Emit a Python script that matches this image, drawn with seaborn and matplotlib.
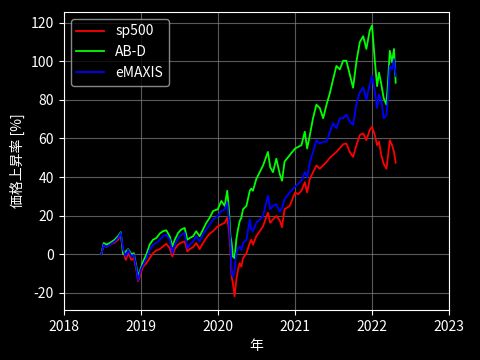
import matplotlib
matplotlib.use("Agg")
import matplotlib.pyplot as plt
import matplotlib.dates as mdates
import seaborn as sns
import pandas as pd

dates = [
    "2018-06-28", "2018-07-09", "2018-07-22", "2018-08-07", "2018-08-30", "2018-09-15", "2018-09-28",
    "2018-10-09", "2018-10-22", "2018-11-02", "2018-11-18", "2018-11-29", "2018-12-11", "2018-12-19",
    "2019-01-01", "2019-01-12", "2019-01-28", "2019-02-12", "2019-02-28", "2019-03-16", "2019-04-01",
    "2019-04-16", "2019-05-02", "2019-05-18", "2019-05-31", "2019-06-11", "2019-06-27", "2019-07-12",
    "2019-07-28", "2019-08-10", "2019-08-21", "2019-09-06", "2019-09-21", "2019-10-07", "2019-10-23",
    "2019-11-08", "2019-11-24", "2019-12-10", "2020-01-01", "2020-01-18", "2020-02-03", "2020-02-15",
    "2020-02-23", "2020-03-01", "2020-03-07", "2020-03-13", "2020-03-21", "2020-03-29", "2020-04-06",
    "2020-04-14", "2020-04-22", "2020-04-30", "2020-05-16", "2020-06-01", "2020-06-08", "2020-06-16",
    "2020-07-02", "2020-07-18", "2020-08-03", "2020-08-26", "2020-09-06", "2020-09-19", "2020-10-05",
    "2020-10-21", "2020-11-01", "2020-11-13", "2020-12-07", "2021-01-02", "2021-01-16", "2021-02-01",
    "2021-02-17", "2021-02-28", "2021-03-13", "2021-03-28", "2021-04-13", "2021-04-29", "2021-05-15",
    "2021-05-31", "2021-06-16", "2021-07-01", "2021-07-17", "2021-08-02", "2021-08-18", "2021-09-02",
    "2021-09-18", "2021-10-04", "2021-10-20", "2021-11-05", "2021-11-21", "2021-12-06", "2021-12-22",
    "2022-01-02", "2022-01-15", "2022-01-26", "2022-02-04", "2022-02-15", "2022-02-26", "2022-03-11",
    "2022-03-19", "2022-03-27", "2022-04-07", "2022-04-16", "2022-04-24",
]

sp500 = [
    0, 5.0, 3.7, 5.0, 6.0, 7.5, 10.7,
    1.4, -3.0, 0.5, -3.0, -2.0, -8.0, -14.0,
    -10.0, -6.5, -4.7, -2.0, 0.5, 2.0, 2.6,
    4.0, 5.4, 3.1, -1.2, 2.6, 5.0, 6.0,
    6.6, 1.4, 2.6, 3.7, 5.8, 2.6, 5.8,
    8.4, 10.7, 11.9, 14.5, 15.4, 16.3, 18.9,
    12.8, 2.3, -11.7, -15.2, -21.9, -13.5, -8.2,
    -4.7, -6.5, -2.1, 0.5, 5.8, 7.5, 4.9,
    9.3, 11.9, 14.5, 21.5, 16.3, 18.0, 19.8,
    17.5, 14.0, 23.3, 25.0, 32.0, 31.1, 32.9,
    37.3, 32.0, 39.0, 42.5, 46.0, 44.3, 46.0,
    47.8, 50.0, 51.5, 53.0, 55.0, 57.0, 57.4,
    53.0, 50.4, 56.5, 61.8, 62.6, 59.1, 64.4,
    66.1, 61.8, 56.5, 58.3, 51.3, 46.9, 44.3,
    51.3, 59.1, 56.5, 53.0, 47.4,
]

abd = [
    0, 5.8, 5.0, 5.8, 7.5, 9.3, 11.4,
    0.0, 1.4, 2.6, 0.0, 0.5, -6.5, -11.7,
    -7.3, -3.8, 0.0, 5.0, 7.5, 8.4, 10.7,
    11.9, 12.4, 9.3, 4.0, 7.5, 11.0, 12.8,
    13.6, 7.5, 8.4, 9.3, 11.9, 9.3, 12.8,
    16.3, 18.9, 22.4, 23.3, 27.6, 25.0, 32.9,
    23.3, 9.3, 5.8, -1.2, -2.1, 7.5, 12.8,
    17.1, 18.9, 23.3, 25.0, 32.9, 34.0, 32.9,
    39.0, 42.5, 46.0, 53.0, 45.1, 42.5, 49.5,
    41.6, 38.1, 48.0, 51.3, 54.8, 55.6, 56.5,
    63.5, 54.8, 61.8, 70.5, 77.5, 75.8, 70.5,
    77.5, 83.6, 90.6, 97.6, 95.8, 100.3, 100.3,
    93.3, 86.3, 100.0, 110.0, 113.0, 106.4, 116.0,
    118.6, 100.3, 87.1, 94.1, 88.0, 81.0, 77.5,
    89.8, 105.5, 99.4, 106.4, 88.9,
]

emaxis = [
    0, 4.9, 3.7, 4.9, 6.6, 8.4, 11.0,
    2.3, -1.2, 2.3, -1.2, -0.3, -7.3, -13.5,
    -8.2, -5.6, -2.1, 2.3, 4.9, 5.8, 7.5,
    9.3, 10.1, 7.5, 0.5, 4.9, 8.4, 10.1,
    11.0, 3.1, 4.9, 6.6, 9.3, 6.6, 10.1,
    12.8, 15.4, 18.0, 19.8, 22.4, 23.3, 26.8,
    18.0, 5.8, -10.0, -11.7, -8.2, 0.5, 3.1,
    4.0, 2.3, 5.8, 7.5, 18.0, 12.8, 11.9,
    16.3, 18.0, 19.8, 30.3, 23.3, 25.0, 25.9,
    22.0, 24.0, 28.5, 32.0, 35.0, 36.4, 38.1,
    42.5, 39.9, 47.8, 53.0, 59.1, 57.4, 58.3,
    58.3, 63.5, 67.9, 65.3, 70.5, 70.5, 72.3,
    68.8, 67.0, 78.0, 84.0, 86.5, 80.0, 88.0,
    92.4, 84.5, 75.8, 82.8, 79.3, 70.5, 72.0,
    82.0, 97.6, 95.8, 101.1, 92.4,
]

series_names = ["sp500", "AB-D", "eMAXIS"]
series_colors = ["red", "lime", "blue"]

plt.style.use("dark_background")
plt.rcParams["font.family"] = ["Noto Sans CJK JP", "DejaVu Sans"]
plt.rcParams["axes.unicode_minus"] = False

df = pd.DataFrame({
    "date": pd.to_datetime(dates),
    "sp500": sp500,
    "AB-D": abd,
    "eMAXIS": emaxis,
})

fig = plt.figure(figsize=(4.8, 3.6), dpi=100)
ax = fig.add_axes([0.133, 0.139, 0.802, 0.828])

for name, col in zip(series_names, series_colors):
    sns.lineplot(data=df, x="date", y=name, ax=ax, color=col, linewidth=1.3, label=name)

ax.set_xlim(pd.Timestamp("2018-01-01"), pd.Timestamp("2023-01-01"))
ax.xaxis.set_major_locator(mdates.YearLocator())
ax.xaxis.set_major_formatter(mdates.DateFormatter("%Y"))
ax.set_yticks([-20, 0, 20, 40, 60, 80, 100, 120])
ax.grid(True, color="gray", linewidth=0.8, alpha=0.7)
ax.tick_params(labelsize=10)
ax.set_xlabel("年", fontsize=10)
ax.set_ylabel("価格上昇率 [%]", fontsize=10)
leg = ax.legend(loc="upper left", fontsize=10)
leg.get_frame().set_edgecolor("#aaaaaa")

fig.savefig("out.png", dpi=100)
